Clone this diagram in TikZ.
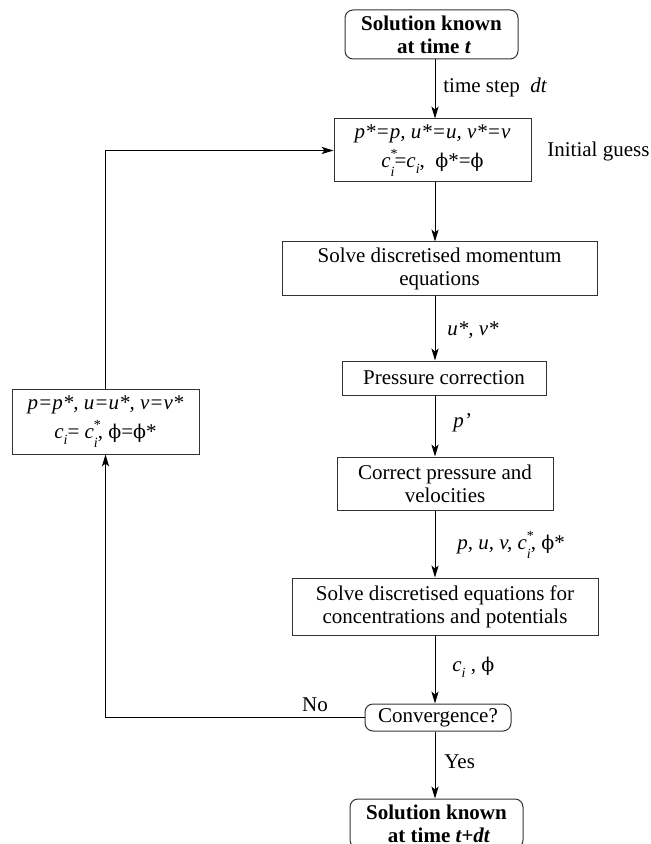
\documentclass[tikz,border=0pt]{standalone}
\usepackage{fontspec}
\setmainfont{Liberation Serif}
\newfontfamily\phifont{DejaVu Serif}
\usetikzlibrary{arrows.meta}
\def\cstar{\textit{c}\rlap{\raisebox{0.42em}{\scriptsize *}}\raisebox{-0.4em}{\scriptsize\textit{i}}}
\def\csub{\textit{c}\raisebox{-0.3em}{\scriptsize\textit{i}}}
\def\phis{{\phifont\fontsize{9.5}{11}\selectfont ϕ}}

\begin{document}
\begin{tikzpicture}[x=0.5pt, y=-0.5pt,
		every node/.style={font=\fontsize{10.5}{11.5}\selectfont},
		box/.style={draw=black!80, line width=0.5pt, inner sep=0pt, align=center},
		endbox/.style={box, rounded corners=4pt, font=\fontsize{10.5}{11.5}\selectfont\bfseries},
		link/.style={line width=0.5pt, -{Stealth[length=6pt, width=3.6pt, inset=1.5pt]}},
		lbl/.style={anchor=west, inner sep=0pt}]
		%%%%% START %%%%%
		
		\clip (0, 0) rectangle (651, 844);
		\coordinate (spine) at (435, 0);
		
		\node[endbox, minimum width=86.5pt, minimum height=24.5pt] (start) at (431.5, 34.5) {Solution known\\ \ at time \textit{t}};
		\node[box, minimum width=98.5pt, minimum height=31.5pt] (guess) at (432.5, 150.5)
			{\textit{p*=p, u*=u, v*=v}\\[3pt] \cstar=\csub,\ \ \phis*=\phis};
		\node[lbl] (guesslbl) at (547, 151) {Initial guess};
		
		\node[box, minimum width=157.5pt, minimum height=26.5pt] (mom) at (439.5, 268.5)
			{Solve discretised momentum\\ equations};
		\node[box, minimum width=102pt, minimum height=17pt] (pres) at (444, 378) {Pressure correction};
		\node[box, minimum width=108pt, minimum height=26.5pt] (corr) at (445, 483.5)
			{Correct pressure and\\ velocities};
		\node[box, minimum width=153pt, minimum height=28.5pt] (conc) at (445, 606.5)
			{Solve discretised equations for\\ concentrations and potentials};
		\node[box, rounded corners=4pt, minimum width=73pt, minimum height=13.5pt] (conv) at (438, 717.5) {Convergence?};
		\node[endbox, minimum width=86.5pt, minimum height=24.5pt] (stop) at (436.5, 823.5) {Solution known\\ \ at time \textit{t+dt}};
		
		\node[box, minimum width=93.5pt, minimum height=32.5pt] (back) at (105.5, 421.5)
			{\textit{p=p*, u=u*, v=v*}\\[3pt] \csub= \cstar,\ \phis=\phis*};
		
		% main line
		\draw[link] (start.south -| spine) -- (guess.north -| spine);
		\draw[link] (guess.south -| spine) -- (mom.north -| spine);
		\draw[link] (mom.south -| spine) -- (pres.north -| spine);
		\draw[link] (pres.south -| spine) -- (corr.north -| spine);
		\draw[link] (corr.south -| spine) -- (conc.north -| spine);
		\draw[link] (conc.south -| spine) -- (conv.north -| spine);
		\draw[link] (conv.south -| spine) -- (stop.north -| spine);
		
		% loop back
		\draw[link] (conv.west) -| (back.south);
		\draw[link] (back.north) |- (guess.west);
		
		\node[lbl] at (443, 87) {time step \ \textit{dt}};
		\node[lbl] at (447, 330) {\textit{u*, v*}};
		\node[lbl] at (453, 423) {\textit{p'}};
		\node[lbl] at (457, 545) {\textit{p, u, v,} \cstar,\ \phis*};
		\node[lbl] at (452, 667) {\csub\ , \phis};
		\node[lbl] at (444, 762) {Yes};
		\node at (315, 705) {No};
		
		%%%%% END %%%%%
	\end{tikzpicture}
\end{document}
